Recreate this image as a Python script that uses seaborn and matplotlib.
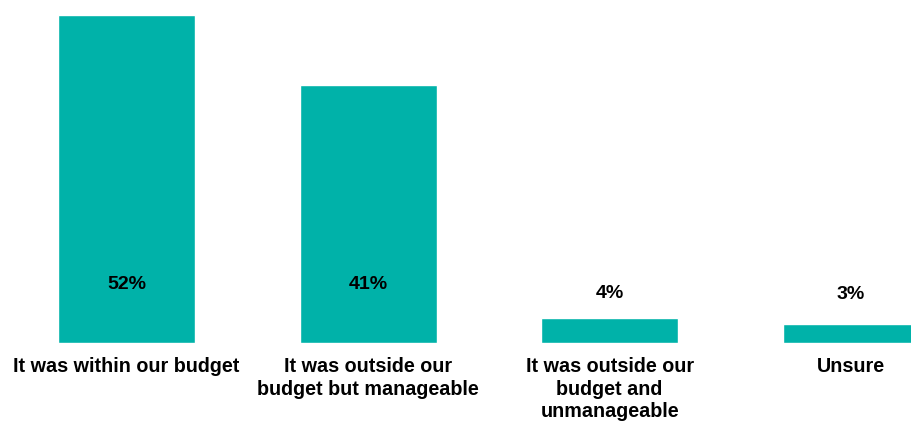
import matplotlib
matplotlib.use("Agg")
import matplotlib.pyplot as plt
import seaborn as sns
import pandas as pd

categories = [
    "It was within our budget",
    "It was outside our\nbudget but manageable",
    "It was outside our\nbudget and\nunmanageable",
    "Unsure",
]
values = [52, 41, 4, 3]
labels = ["52%", "41%", "4%", "3%"]

sns.set_theme(style="white")
plt.rcParams["font.family"] = ["Liberation Sans", "DejaVu Sans"]

df = pd.DataFrame({"category": categories, "value": values})

fig = plt.figure(figsize=(9.11, 4.21), dpi=100)
ax = fig.add_axes([0.0, 0.1845, 1.0, 0.8155])

sns.barplot(data=df, x="category", y="value", color="#00B2A9",
            saturation=1, width=0.567, ax=ax)

ax.set_xlim(-0.524, 3.248)
ax.set_ylim(0, 54.4)

# Large bars carry their label inside; small bars get it above
for i, (v, lab) in enumerate(zip(values, labels)):
    if v > 10:
        ax.text(i, 9.3, lab, ha="center", va="center",
                fontsize=14, fontweight="bold", color="black")
    else:
        ax.text(i, v + 3.9 + (0.9 if v < 4 else 0), lab, ha="center", va="center",
                fontsize=14, fontweight="bold", color="black")

ax.set_xlabel("")
ax.set_ylabel("")
ax.set_yticks([])
ax.tick_params(axis="x", length=0, pad=10)
for t in ax.get_xticklabels():
    t.set_fontsize(14.2)
    t.set_fontweight("bold")
    t.set_color("black")
    t.set_linespacing(1.22)
for s in ax.spines.values():
    s.set_visible(False)

fig.savefig("out.png", dpi=100)
